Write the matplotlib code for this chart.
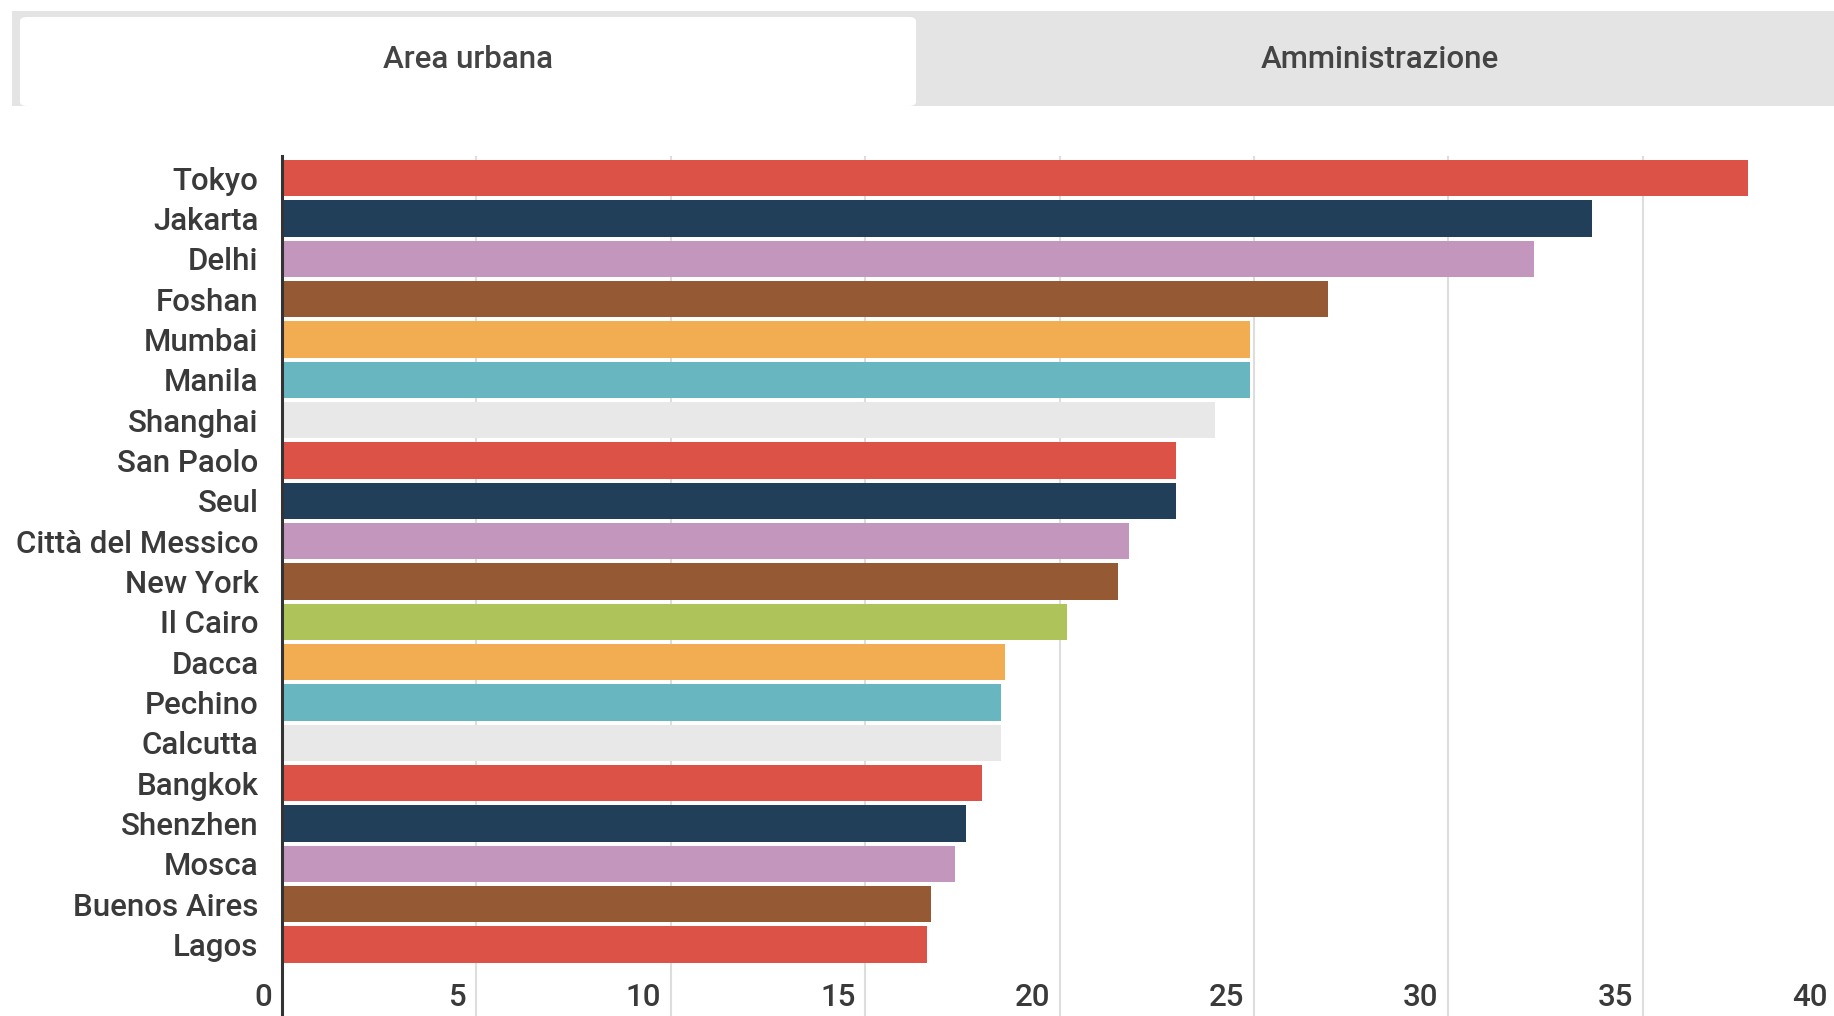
import matplotlib
matplotlib.use("Agg")
import matplotlib.pyplot as plt
from matplotlib.patches import FancyBboxPatch, Rectangle

plt.rcParams['font.family'] = ['Roboto', 'DejaVu Sans']

# popolazione area urbana (milioni)
cities = ["Tokyo", "Jakarta", "Delhi", "Foshan", "Mumbai", "Manila", "Shanghai",
          "San Paolo", "Seul", "Città del Messico", "New York", "Il Cairo", "Dacca",
          "Pechino", "Calcutta", "Bangkok", "Shenzhen", "Mosca", "Buenos Aires", "Lagos"]
population = [37.7, 33.7, 32.2, 26.9, 24.9, 24.9, 24.0, 23.0, 23.0, 21.8,
              21.5, 20.2, 18.6, 18.5, 18.5, 18.0, 17.6, 17.3, 16.7, 16.6]
colors = ["#DD5247", "#223F5A", "#C296BD", "#955A33", "#F2AC52", "#68B6C0", "#E8E8E8",
          "#DD5247", "#223F5A", "#C296BD", "#955A33", "#AEC45A", "#F2AC52", "#68B6C0",
          "#E8E8E8", "#DD5247", "#223F5A", "#C296BD", "#955A33", "#DD5247"]
xticks = [0, 5, 10, 15, 20, 25, 30, 35, 40]
tabs = ["Area urbana", "Amministrazione"]

W, H = 1834, 1016
fig = plt.figure(figsize=(W / 100, H / 100), dpi=100)
fig.patch.set_facecolor("white")

# tab bar at the top
fig.patches.append(Rectangle((12 / W, 1 - 106 / H), 1 - 12 / W, 95 / H,
                             transform=fig.transFigure, facecolor="#E4E4E4",
                             edgecolor="none"))
fig.patches.append(FancyBboxPatch((20 / W, 1 - 106 / H), 896 / W, 89 / H,
                                  boxstyle="round,pad=0,rounding_size=0.004",
                                  transform=fig.transFigure, facecolor="white",
                                  edgecolor="none"))
fig.text(468 / W, 1 - 60 / H, tabs[0], ha="center", va="center",
         fontsize=22.5, color="#444444", weight="medium")
fig.text(1380 / W, 1 - 60 / H, tabs[1], ha="center", va="center",
         fontsize=22.5, color="#444444", weight="medium")

left, right = 282, 1837
top = 156
ax = fig.add_axes([left / W, 0, (right - left) / W, 1 - top / H])
ypos = list(range(len(cities)))
ax.barh(ypos, population, height=0.9, color=colors, zorder=3)

ax.set_xlim(xticks[0], xticks[-1])
ax.set_ylim(20.77, -0.55)
ax.set_xticks(xticks[1:-1])
ax.tick_params(axis="x", length=0, labelbottom=False)
ax.grid(axis="x", color="#DDDDDD", linewidth=1.5, zorder=0)
ax.set_yticks(ypos)
ax.set_yticklabels(cities, fontsize=22.5, color="#3A3A3A", weight="medium")
ax.tick_params(axis="y", length=0, pad=17)

for s in ["top", "right", "bottom"]:
    ax.spines[s].set_visible(False)
ax.spines["left"].set_color("#333333")
ax.spines["left"].set_linewidth(2.2)
ax.spines["left"].set_zorder(4)

# x tick labels sit inside the plot, right-aligned to each grid line
for t in xticks:
    ax.annotate(str(t), xy=(t, 20.32), xytext=(-7, 0), textcoords="offset points",
                ha="right", va="center", fontsize=22.5, color="#3A3A3A",
                weight="medium")

fig.savefig("out.png", dpi=100)
